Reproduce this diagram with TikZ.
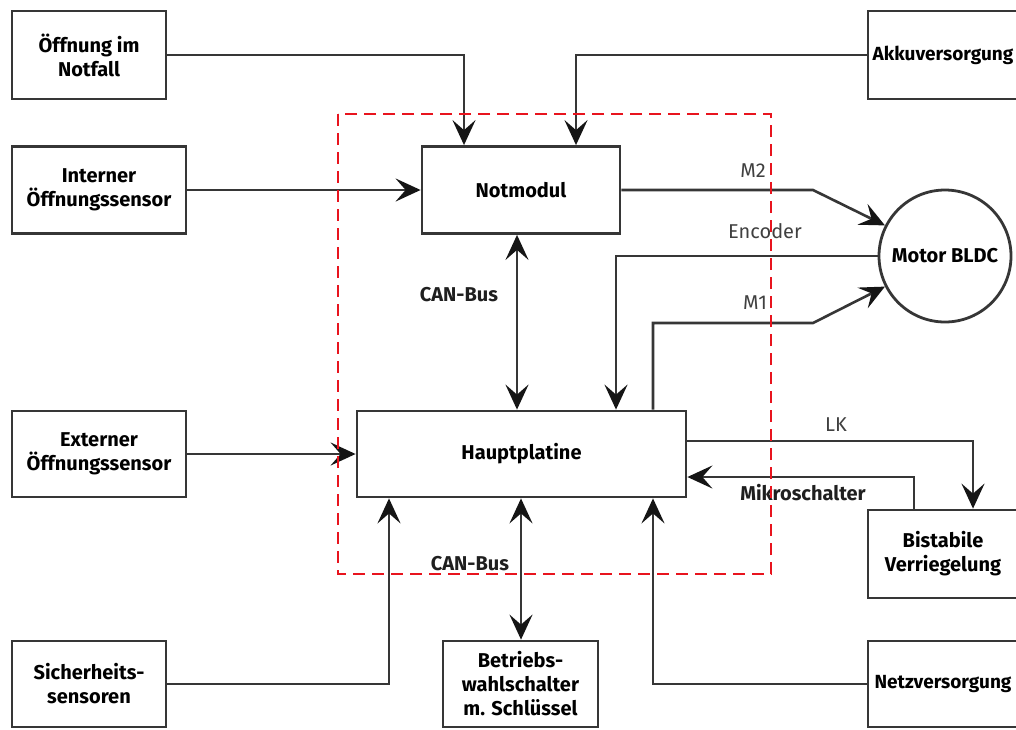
\documentclass[tikz,border=0pt]{standalone}
\usepackage{fontspec}
\setmainfont{Fira Sans}
\usetikzlibrary{arrows.meta}
\definecolor{lc}{HTML}{363636}
\definecolor{lab}{HTML}{404040}
\definecolor{ah}{HTML}{151515}
\definecolor{dred}{RGB}{232,20,30}
\begin{document}
\begin{tikzpicture}[x=1pt,y=-1pt,
  >={Stealth[length=25pt,width=23pt,inset=10pt,color=ah]},
  box/.style={draw=lc, line width=2.8pt, rectangle, inner sep=0pt, align=center,
    font=\bfseries\fontsize{20}{24}\selectfont},
  cutbox/.style={box, font=\bfseries\fontsize{19}{24}\selectfont},
  conn/.style={draw=lc, line width=2.6pt, ->},
  bconn/.style={draw=lc, line width=2.6pt, <->},
  lbl/.style={inner sep=0pt, text=lab, font=\fontsize{20}{24}\selectfont},
  blbl/.style={inner sep=0pt, text=black!88, font=\bfseries\fontsize{20}{24}\selectfont}]
\fill[white] (0,0) rectangle (1016,729);
\useasboundingbox (0,0) rectangle (1016,729);

% boxes
\node[box, minimum width=154pt, minimum height=88pt] (notfall) at (89,55) {Öffnung im\\Notfall};
\node[cutbox, minimum width=150pt, minimum height=88pt] (akku) at (943,55) {Akkuversorgung};
\node[box, minimum width=174pt, minimum height=87pt] (intern) at (99,190) {Interner\\Öffnungssensor};
\node[box, minimum width=198pt, minimum height=87pt] (not) at (521,190) {Notmodul};
\node[draw=lc, line width=2.8pt, circle, minimum size=132pt, inner sep=0pt,
      font=\bfseries\fontsize{20}{24}\selectfont] (motor) at (945,256) {Motor BLDC};
\node[box, minimum width=174pt, minimum height=86pt] (extern) at (99,454) {Externer\\Öffnungssensor};
\node[box, minimum width=329pt, minimum height=86pt] (haupt) at (521.5,454) {Hauptplatine};
\node[box, minimum width=150pt, minimum height=88pt] (bist) at (943,554) {Bistabile\\Verriegelung};
\node[cutbox, minimum width=150pt, minimum height=86pt] (netz) at (943,684) {Netzversorgung};
\node[box, minimum width=154pt, minimum height=86pt] (sicher) at (89,684) {Sicherheits-\\sensoren};
\node[box, minimum width=155pt, minimum height=86pt] (betr) at (520.5,684) {Betriebs-\\wahlschalter\\m. Schlüssel};

% connector helper coordinates
\coordinate (c1) at (464,55);
\coordinate (c2) at (576,55);
\coordinate (c3) at (813,190);
\coordinate (c4) at (616,256);
\coordinate (c5) at (653,323);
\coordinate (c6) at (813,323);
\coordinate (c7) at (973,441);
\coordinate (c8) at (914,477);
\coordinate (c9) at (389,684);
\coordinate (c10) at (653,684);
\coordinate (cb1) at (517,300);
\coordinate (cb2) at (521,560);

% connectors
\draw[conn] (notfall.east |- c1) -- (c1) -- (c1 |- not.north);
\draw[conn] (akku.west |- c2) -- (c2) -- (c2 |- not.north);
\draw[conn] (intern.east) -- (not.west);
\draw[conn] (not.east |- c3) -- (c3) -- (motor.153);
\draw[conn] (motor.west) -- (c4) -- (c4 |- haupt.north);
\draw[conn] (c5 |- haupt.north) -- (c5) -- (c6) -- (motor.207);
\draw[bconn] (cb1 |- not.south) -- (cb1 |- haupt.north);
\draw[conn] (extern.east) -- (haupt.west);
\draw[conn] (haupt.east |- c7) -- (c7) -- (c7 |- bist.north);
\draw[conn] (c8 |- bist.north) -- (c8) -- (c8 -| haupt.east);
\draw[conn] (sicher.east |- c9) -- (c9) -- (c9 |- haupt.south);
\draw[bconn] (cb2 |- haupt.south) -- (cb2 |- betr.north);
\draw[conn] (netz.west |- c10) -- (c10) -- (c10 |- haupt.south);

% labels
\node[lbl] (lm2) at (753,171) {M2};
\node[lbl] (lenc) at (765,231) {Encoder};
\node[lbl] (lm1) at (755,303) {M1};
\node[lbl] (llk) at (836,425) {LK};
\node[blbl] (lmik) at (803,493) {Mikroschalter};
\node[blbl] (lcan1) at (459,295) {CAN-Bus};
\node[blbl] (lcan2) at (470,564) {CAN-Bus};

% red dashed boundary
\draw[dred, line width=2.4pt, dash pattern=on 12pt off 7pt] (338,114) rectangle (771,574);
\end{tikzpicture}
\end{document}
